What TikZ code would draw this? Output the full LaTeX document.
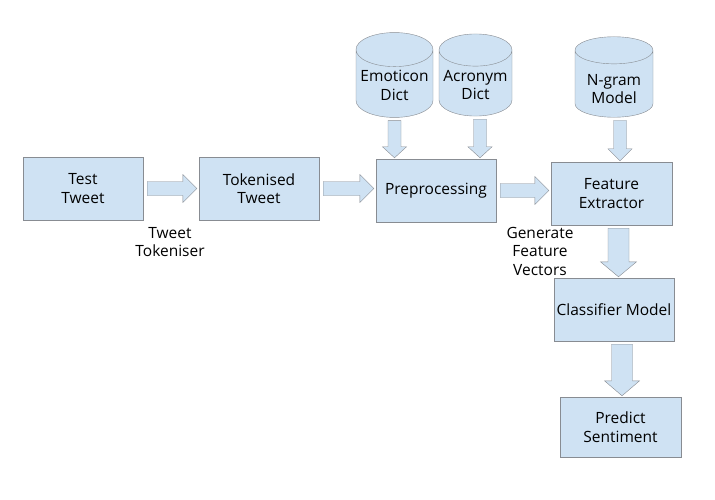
\documentclass[tikz,border=0pt]{standalone}
\usepackage{fontspec}
\setmainfont{Open Sans}
\usepackage{xcolor}
\usepackage{tikz}
\usetikzlibrary{calc}
\usetikzlibrary{shapes.geometric}
\definecolor{boxfill}{RGB}{207,226,243}
\definecolor{boxline}{RGB}{136,140,146}
\tikzset{
  stage/.style={draw=boxline,fill=boxfill,thin,align=center,
    minimum width=120pt,minimum height=63pt,inner sep=0pt},
  store/.style={cylinder,shape border rotate=90,aspect=0.5,draw=boxline,
    fill=boxfill,thin,align=center,inner sep=0pt,anchor=shape center},
  flow/.style={draw=boxline,fill=boxfill,thin},
  note/.style={align=center}
}
% strut that pushes the text below the lid
\newcommand{\lid}[1][15pt]{\rule{0pt}{#1}}
% horizontal block arrow between two nodes
\newcommand{\fatright}[2]{%
  \draw[flow] let \p1=(#1.east), \p2=(#2.west) in
    (\x1+4pt,\y1+7pt) -- (\x2-16pt,\y1+7pt) -- (\x2-16pt,\y1+14pt)
    -- (\x2-2pt,\y1) -- (\x2-16pt,\y1-14pt) -- (\x2-16pt,\y1-7pt)
    -- (\x1+4pt,\y1-7pt) -- cycle;}
% vertical block arrow: [xshift]{from}{to}{shaft half}{head half}{head length}
\newcommand{\fatdown}[6][0pt]{%
  \draw[flow] let \p1=(#2.south), \p2=(#3.north) in
    (\x1+#1-#4,\y1-3pt) -- (\x1+#1-#4,\y2+1pt+#6) -- (\x1+#1-#5,\y2+1pt+#6)
    -- (\x1+#1,\y2+1pt) -- (\x1+#1+#5,\y2+1pt+#6) -- (\x1+#1+#4,\y2+1pt+#6)
    -- (\x1+#1+#4,\y1-3pt) -- cycle;}
\begin{document}
\begin{tikzpicture}[x=1pt,y=-1pt,font=\fontsize{15.5}{18.5}\selectfont]
	\useasboundingbox[fill=white] (0,0) rectangle (715,500);
	% stages
	\node[stage] (test) at (83,188.5) {Test\\Tweet};
	\node[stage] (tok) at (259,188.5) {Tokenised\\Tweet};
	\node[stage] (pre) at (436,190.5) {Preprocessing};
	\node[stage,minimum width=121pt] (feat) at (611.5,193.5) {Feature\\Extractor};
	\node[stage] (cls) at (614,309.5) {Classifier Model};
	\node[stage,minimum width=121pt,minimum height=60pt] (pred) at (620.5,427) {Predict\\Sentiment};
	% stores
	\node[store,minimum width=77pt,minimum height=72pt] (emo) at (394.5,75) {\lid Emoticon\\Dict};
	\node[store,minimum width=73pt,minimum height=72pt] (acr) at (475.5,75) {\lid Acronym\\Dict};
	\node[store,minimum width=78pt,minimum height=68pt] (ngram) at (614,77) {\lid[21pt]N-gram\\Model};
	% block arrows
	\fatright{test}{tok}
	\fatright{tok}{pre}
	\fatright{pre}{feat}
	\fatdown{emo}{pre}{6.5pt}{12pt}{11pt}
	\fatdown[4.5pt]{acr}{pre}{6.5pt}{12pt}{11pt}
	\fatdown[6pt]{ngram}{feat}{6.5pt}{12pt}{12pt}
	\fatdown[7pt]{feat}{cls}{10.5pt}{18pt}{15pt}
	\fatdown[8pt]{cls}{pred}{10.5pt}{17.5pt}{15pt}
	% labels
	\node[note] (tokeniser) at (170,242) {Tweet\\Tokeniser};
	\node[note] (vectors) at (540,251) {Generate\\Feature\\Vectors};
\end{tikzpicture}
\end{document}
